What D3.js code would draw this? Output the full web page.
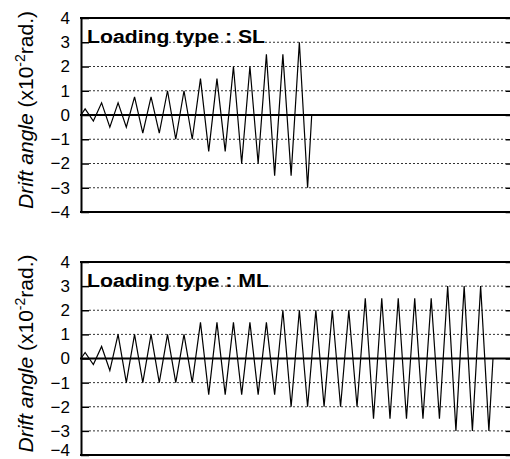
<!DOCTYPE html>
<html><head><meta charset="utf-8">
<script src="https://cdn.jsdelivr.net/npm/d3@7/dist/d3.min.js"></script>
<style>body{margin:0;background:#fff} svg{display:block}</style>
</head><body><svg id="c" width="510" height="459"></svg>
<script>
// Tick labels of the drift angle axis (x10^-2 rad.)
const yTicks = [-4, -3, -2, -1, 0, 1, 2, 3, 4];
const gridValues = [-3, -2, -1, 1, 2, 3];
// Peak sequence of the SL loading protocol (x10^-2 rad.)
const slValues = [0, 0.25, -0.25, 0.5, -0.5, 0.5, -0.5, 0.75, -0.75, 0.75, -0.75,
  1, -1, 1, -1, 1.5, -1.5, 1.5, -1.5, 2, -2, 2, -2, 2.5, -2.5, 2.5, -2.5, 3, -3, 0];
// Peak sequence of the ML loading protocol (x10^-2 rad.)
const mlValues = [0, 0.25, -0.25, 0.5, -0.5,
  1, -1, 1, -1, 1, -1, 1, -1, 1, -1,
  1.5, -1.5, 1.5, -1.5, 1.5, -1.5, 1.5, -1.5, 1.5, -1.5,
  2, -2, 2, -2, 2, -2, 2, -2, 2, -2,
  2.5, -2.5, 2.5, -2.5, 2.5, -2.5, 2.5, -2.5, 2.5, -2.5,
  3, -3, 3, -3, 3, -3, 0];
const panelLabels = ["Loading type : SL", "Loading type : ML"];

const FONT = "Arial, 'Liberation Sans', sans-serif";
const svg = d3.select("#c");
const left = 81, right = 513.6;
const panels = [
  {label: panelLabels[0], values: slValues, top: 18, bottom: 212, labelLen: 178},
  {label: panelLabels[1], values: mlValues, top: 262, bottom: 455, labelLen: 182}
];
// step position of each peak: quarter cycle to first peak, half cycle between peaks
const stepX = (i, n) => i === 0 ? 0 : (i === n - 1 ? 2 * (n - 2) : 2 * i - 1);
const x = d3.scaleLinear().domain([0, 105]).range([left, right]);

panels.forEach(p => {
  const y = d3.scaleLinear().domain([-4, 4]).range([p.bottom, p.top]);
  const g = svg.append("g");

  // dotted gridlines
  g.selectAll("line.grid").data(gridValues).join("line")
    .attr("x1", left + 8).attr("x2", right - 8)
    .attr("y1", d => y(d)).attr("y2", d => y(d))
    .attr("stroke", "#333").attr("stroke-width", 1)
    .attr("stroke-dasharray", "2,2");

  // left axis with inward ticks
  const ax = g.append("g").attr("transform", `translate(${left},0)`)
    .call(d3.axisLeft(y).tickValues(yTicks).tickSizeInner(-8).tickSizeOuter(0).tickPadding(11));
  ax.select(".domain").attr("stroke", "#000").attr("stroke-width", 2);
  ax.selectAll(".tick line").attr("stroke", "#000").attr("stroke-width", 1.5);
  ax.selectAll(".tick text").attr("font-family", FONT).attr("font-size", 17)
    .attr("fill", "#000")
    .attr("dy", d => (y(d) + 5.5 > 455 ? (455 - y(d)) + "px" : "0.32em"));

  // right inward ticks
  const axr = g.append("g").attr("transform", `translate(${right},0)`)
    .call(d3.axisRight(y).tickValues(yTicks).tickSizeInner(-8).tickSizeOuter(0).tickFormat(""));
  axr.select(".domain").remove();
  axr.selectAll(".tick line").attr("stroke", "#000").attr("stroke-width", 1.5);

  // frame top/bottom and zero line
  [4, -4, 0].forEach(v => {
    g.append("line").attr("x1", left - 1).attr("x2", right)
      .attr("y1", y(v)).attr("y2", y(v))
      .attr("stroke", "#000").attr("stroke-width", 2);
  });

  // loading history
  const n = p.values.length;
  const line = d3.line().x((d, i) => x(stepX(i, n))).y(d => y(d));
  g.append("path").datum(p.values).attr("d", line)
    .attr("fill", "none").attr("stroke", "#000").attr("stroke-width", 1.2)
    .attr("stroke-linejoin", "miter");

  // label
  g.append("text").attr("x", 87).attr("y", y(3) + 1)
    .attr("font-family", FONT).attr("font-size", 18).attr("font-weight", "bold")
    .attr("textLength", p.labelLen).attr("lengthAdjust", "spacingAndGlyphs")
    .attr("fill", "#000").text(p.label);

  // y title
  const t = g.append("text")
    .attr("transform", `translate(33,${(p.top + p.bottom) / 2 - 5}) rotate(-90)`)
    .attr("text-anchor", "middle").attr("font-family", FONT).attr("font-size", 21).attr("fill", "#000");
  t.append("tspan").attr("font-style", "italic").text("Drift angle");
  t.append("tspan").text(" (x10");
  t.append("tspan").attr("font-size", 14).attr("dy", -8).text("-2");
  t.append("tspan").attr("dy", 8).text("rad.)");
});
</script></body></html>
